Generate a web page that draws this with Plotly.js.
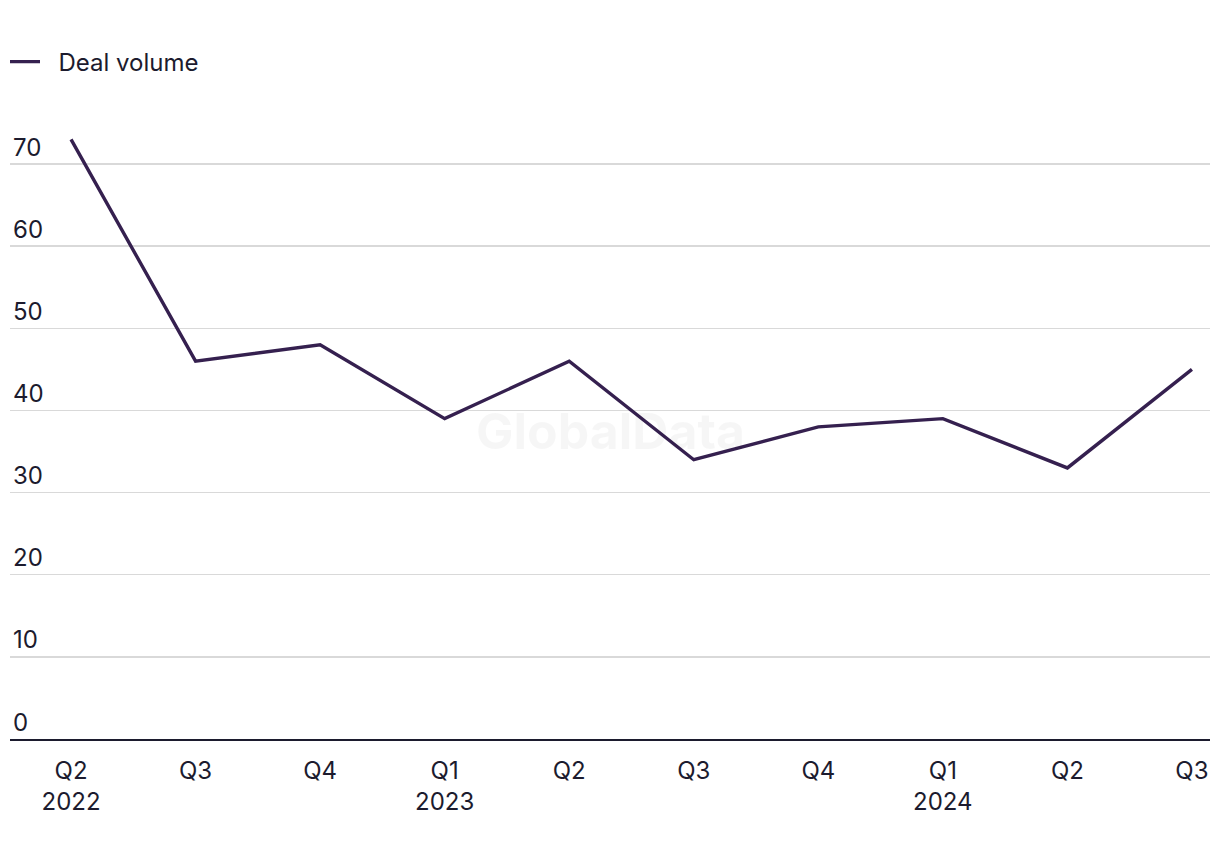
<!DOCTYPE html>
<html>
<head>
<meta charset="utf-8">
<script src="https://cdn.plot.ly/plotly-3.0.1.min.js"></script>
<style>
  html, body { margin: 0; padding: 0; background: #ffffff; }
  #chart { width: 1220px; height: 860px; }
</style>
</head>
<body>
<div id="chart"></div>
<script>
const categories = ["Q2 2022", "Q3 2022", "Q4 2022", "Q1 2023", "Q2 2023", "Q3 2023", "Q4 2023", "Q1 2024", "Q2 2024", "Q3 2024"];
const tickLabels = ["Q2<br>2022", "Q3", "Q4", "Q1<br>2023", "Q2", "Q3", "Q4", "Q1<br>2024", "Q2", "Q3"];
const dealVolume = [73, 46, 48, 39, 46, 34, 38, 39, 33, 45];
const yTicks = [0, 10, 20, 30, 40, 50, 60, 70];
const seriesName = "Deal volume";

const fontFamily = "Inter, 'Liberation Sans', Arial, sans-serif";
const textColor = "#1c1b2e";

const trace = {
  type: "scatter",
  mode: "lines",
  name: "\u00a0\u00a0" + seriesName,
  x: categories,
  y: dealVolume,
  line: { color: "#35204f", width: 3.4 },
  hoverinfo: "x+y"
};

const layout = {
  width: 1220,
  height: 860,
  margin: { l: 10, r: 10, t: 98, b: 121, autoexpand: false },
  paper_bgcolor: "#ffffff",
  plot_bgcolor: "#ffffff",
  font: { family: fontFamily, size: 24, color: textColor },
  showlegend: true,
  legend: {
    xref: "paper", yref: "paper",
    x: -5 / 1200, y: 1 + 36 / 641,
    xanchor: "left", yanchor: "middle",
    itemwidth: 30,
    font: { family: fontFamily, size: 24, color: textColor },
    bgcolor: "rgba(0,0,0,0)"
  },
  xaxis: {
    type: "category",
    range: [-0.49, 9.145],
    tickmode: "array",
    tickvals: categories,
    ticktext: tickLabels,
    showgrid: false,
    zeroline: false,
    showline: true,
    linecolor: "#1c1b2e",
    linewidth: 2,
    ticks: "",
    ticklabelstandoff: 9,
    automargin: false,
    tickfont: { family: fontFamily, size: 24, color: textColor },
    fixedrange: true
  },
  yaxis: {
    range: [0, 78.04],
    tickmode: "array",
    tickvals: yTicks,
    ticktext: yTicks.map(String),
    ticklabelposition: "inside top",
    showgrid: true,
    gridcolor: "#d9d9d9",
    gridwidth: 1.5,
    zeroline: false,
    showline: false,
    ticks: "",
    automargin: false,
    tickfont: { family: fontFamily, size: 24, color: textColor },
    fixedrange: true
  },
  annotations: [
    {
      xref: "paper", yref: "paper",
      x: 0.5, y: 0.48,
      text: "<b>GlobalData</b>",
      showarrow: false,
      font: { family: fontFamily, size: 50, color: "rgba(0,0,0,0.035)" }
    }
  ]
};

Plotly.newPlot("chart", [trace], layout, { displayModeBar: false, staticPlot: true });
</script>
</body>
</html>
